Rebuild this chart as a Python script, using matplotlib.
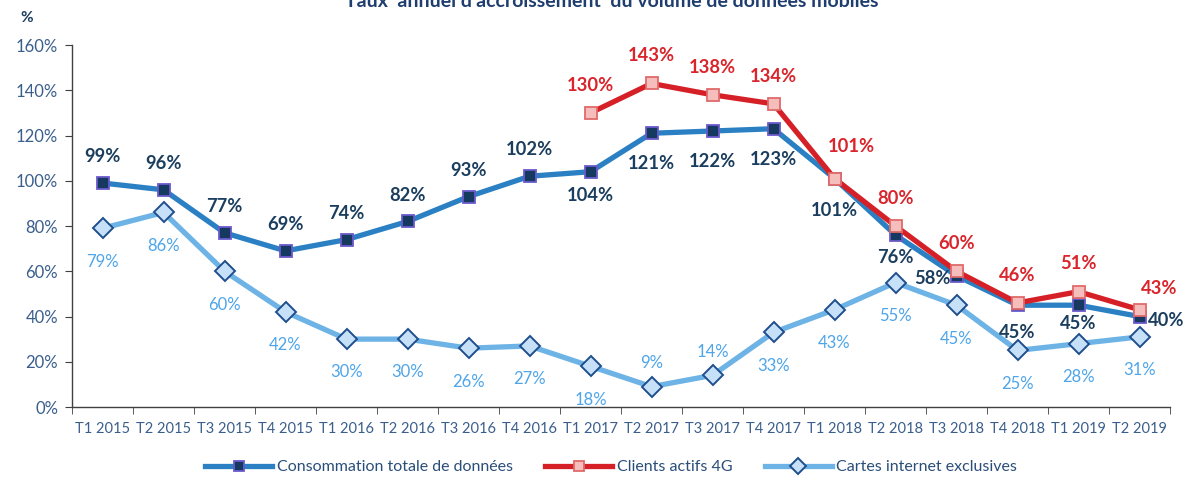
import matplotlib
matplotlib.use("Agg")
import matplotlib.pyplot as plt
import numpy as np

categories = ["T1 2015", "T2 2015", "T3 2015", "T4 2015", "T1 2016", "T2 2016",
              "T3 2016", "T4 2016", "T1 2017", "T2 2017", "T3 2017", "T4 2017",
              "T1 2018", "T2 2018", "T3 2018", "T4 2018", "T1 2019", "T2 2019"]
conso = [99, 96, 77, 69, 74, 82, 93, 102, 104, 121, 122, 123, 101, 76, 58, 45, 45, 40]
clients4g = [None] * 8 + [130, 143, 138, 134, 101, 80, 60, 46, 51, 43]
cartes = [79, 86, 60, 42, 30, 30, 26, 27, 18, 9, 14, 33, 43, 55, 45, 25, 28, 31]
yticks = [0, 20, 40, 60, 80, 100, 120, 140, 160]

series_names = ["Consommation totale de données", "Clients actifs 4G", "Cartes internet exclusives"]
title = "Taux  annuel d'accroissement  du volume de données mobiles"

plt.rcParams['font.family'] = ['Lato', 'DejaVu Sans']

fig = plt.figure(figsize=(11.87, 4.79), dpi=100)
ax = fig.add_axes([0.0607, 0.1503, 0.925, 0.7557])

x = np.arange(len(categories))
c4 = np.array([np.nan if v is None else v for v in clients4g], dtype=float)

l3, = ax.plot(x, cartes, color="#6DB3E6", lw=3.8, marker="D", ms=10,
              mfc="#C6E0F8", mec="#1F4E8C", mew=1.4, zorder=3, label=series_names[2])
l1, = ax.plot(x, conso, color="#2A80C2", lw=3.8, marker="s", ms=8.5,
              mfc="#163A5F", mec="#6A5ACD", mew=1.3, zorder=4, label=series_names[0])
l2, = ax.plot(x, c4, color="#D62027", lw=3.8, marker="s", ms=8.5,
              mfc="#F6BDBD", mec="#E06A6A", mew=1.3, zorder=5, label=series_names[1])

navy = "#1B3E5E"
red = "#D9252B"
lblue = "#4EA5EA"
fs = 13.2

# Consommation labels
conso_off = {i: (0, 19) for i in range(8)}
conso_off.update({8: (0, -17), 9: (0, -22), 10: (0, -22), 11: (0, -22),
                  12: (0, -23), 13: (0, -16), 14: (-17, -2), 15: (0, -20),
                  16: (0, -13), 17: (6, -3)})
for i, v in enumerate(conso):
    dx, dy = conso_off[i]
    ax.annotate(f"{v}%", (x[i], v), xytext=(dx, dy), textcoords="offset points",
                ha="left" if i == 17 else "center", va="center", color=navy,
                fontsize=fs, fontweight="bold", zorder=6)

# Clients 4G labels
red_off = {i: (0, 20) for i in range(8, 18)}
red_off.update({12: (12, 23), 17: (14, 15)})
for i, v in enumerate(clients4g):
    if v is None:
        continue
    dx, dy = red_off[i]
    ax.annotate(f"{v}%", (x[i], v), xytext=(dx, dy), textcoords="offset points",
                ha="center", va="center", color=red, fontsize=fs, fontweight="bold", zorder=6)

# Cartes labels
cartes_off = {i: (0, -24) for i in range(18)}
cartes_off.update({9: (0, 17), 10: (0, 17)})
for i, v in enumerate(cartes):
    dx, dy = cartes_off[i]
    ax.annotate(f"{v}%", (x[i], v), xytext=(dx, dy), textcoords="offset points",
                ha="center", va="center", color=lblue, fontsize=12, zorder=6)

ax.set_xlim(-0.5, len(categories) - 0.5)
ax.set_ylim(0, 160)
ax.set_yticks(yticks)
ax.set_yticklabels([f"{t}%" for t in yticks])
ax.set_xticks(x)
ax.set_xticklabels(categories)
ax.set_xticks(np.arange(-0.5, len(categories)), minor=True)
ax.tick_params(axis="x", which="major", length=0, pad=11, labelsize=10.5, labelcolor="#3A5E8C")
ax.tick_params(axis="x", which="minor", length=5, color="#404040")
ax.tick_params(axis="y", length=5, color="#404040", labelsize=12, labelcolor="#3A5E8C", pad=5)
for s in ["top", "right"]:
    ax.spines[s].set_visible(False)
for s in ["left", "bottom"]:
    ax.spines[s].set_color("#404040")
    ax.spines[s].set_linewidth(1.0)

fig.text(0.0228, 0.962, "%", ha="center", va="center", color=navy, fontsize=11, fontweight="bold")
fig.text(0.515, 0.997, title, ha="center", va="center", color="#1F3D6E",
         fontsize=14, fontweight="bold")

fig.legend(handles=[l1, l2, l3], labels=series_names, loc="center", ncol=3,
           bbox_to_anchor=(0.515, 0.025), frameon=False, fontsize=11.5,
           handlelength=4.2, columnspacing=2.0, handletextpad=0.3,
           markerscale=0.8, labelcolor="#2A4E7A")

fig.savefig("out.png", dpi=100)
